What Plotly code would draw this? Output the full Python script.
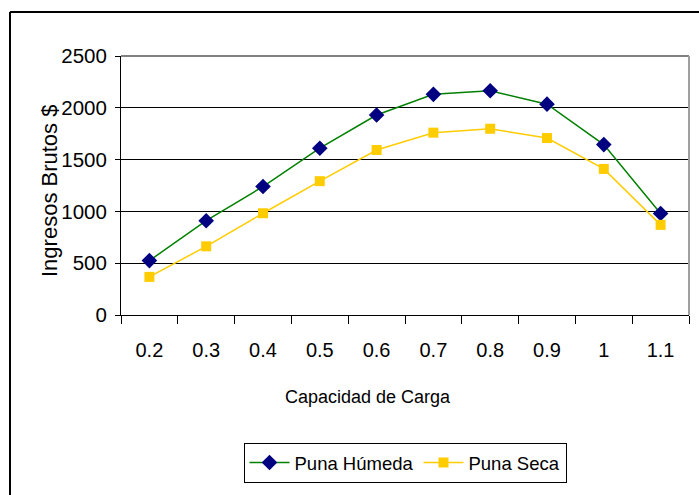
import plotly.graph_objects as go

# Data
capacidad = ["0.2", "0.3", "0.4", "0.5", "0.6", "0.7", "0.8", "0.9", "1", "1.1"]
puna_humeda = [525, 910, 1240, 1610, 1930, 2130, 2165, 2035, 1645, 980]
puna_seca = [368, 663, 982, 1292, 1593, 1760, 1798, 1708, 1410, 870]
y_ticks = [0, 500, 1000, 1500, 2000, 2500]

W, H = 699, 495
ML, MR, MT, MB = 121, 10, 56, 180
PW, PH = W - ML - MR, H - MT - MB


def px_x(px):
    return (px - ML) / PW


def px_y(py):
    return (H - MB - py) / PH


FONT = "Liberation Sans, Arial, sans-serif"

fig = go.Figure()
fig.add_trace(go.Scatter(
    x=capacidad, y=puna_humeda, name="Puna Húmeda", mode="lines+markers",
    line=dict(color="#008000", width=1.5),
    marker=dict(symbol="diamond", size=12, color="#000080"),
))
fig.add_trace(go.Scatter(
    x=capacidad, y=puna_seca, name="Puna Seca", mode="lines+markers",
    line=dict(color="#FFCC00", width=1.5),
    marker=dict(symbol="square", size=10, color="#FFCC00"),
))

fig.update_layout(
    width=W, height=H,
    margin=dict(l=ML, r=MR, t=MT, b=MB),
    paper_bgcolor="white", plot_bgcolor="white",
    font=dict(family=FONT, size=20, color="black"),
    showlegend=True,
    legend=dict(
        orientation="h", x=0.5, xanchor="center", y=px_y(443), yanchor="top",
        bgcolor="white", bordercolor="black", borderwidth=1,
        font=dict(family=FONT, size=18.5, color="black"),
        itemwidth=40,
    ),
    xaxis=dict(
        type="category", tickson="boundaries", range=[-0.5, len(capacidad) - 0.5],
        ticks="outside", ticklen=8, tickcolor="black", tickwidth=1,
        showline=True, linecolor="black", linewidth=1,
        showgrid=False, zeroline=False,
        tickfont=dict(family=FONT, size=20),
        ticklabelstandoff=17,
    ),
    yaxis=dict(
        range=[0, 2500], tickvals=y_ticks,
        ticks="outside", ticklen=5, tickcolor="black", tickwidth=1,
        showline=True, linecolor="black", linewidth=1,
        showgrid=True, gridcolor="#000000", gridwidth=1,
        zeroline=False,
        tickfont=dict(family=FONT, size=20.5),
        ticklabelstandoff=4,
    ),
    annotations=[
        dict(text="Capacidad de Carga", xref="paper", yref="paper",
             x=px_x(368), y=px_y(397), xanchor="center", yanchor="middle",
             showarrow=False, font=dict(family=FONT, size=18)),
        dict(text="Ingresos Brutos $", xref="paper", yref="paper",
             x=px_x(49), y=px_y(191), xanchor="center", yanchor="middle",
             textangle=-90, showarrow=False, font=dict(family=FONT, size=22)),
    ],
    shapes=[
        # plot area border (top and right) in grey
        dict(type="line", xref="paper", yref="paper", x0=0, x1=1, y0=1, y1=1,
             line=dict(color="#808080", width=2), layer="above"),
        dict(type="line", xref="paper", yref="paper", x0=1, x1=1, y0=0, y1=1,
             line=dict(color="#A0A0A0", width=2), layer="above"),
        # outer chart frame
        dict(type="line", xref="paper", yref="paper",
             x0=px_x(10), x1=px_x(720), y0=px_y(12), y1=px_y(12),
             line=dict(color="black", width=2)),
        dict(type="line", xref="paper", yref="paper",
             x0=px_x(10), x1=px_x(10), y0=px_y(12), y1=px_y(520),
             line=dict(color="black", width=2)),
    ],
)

fig.write_html("out.html")
